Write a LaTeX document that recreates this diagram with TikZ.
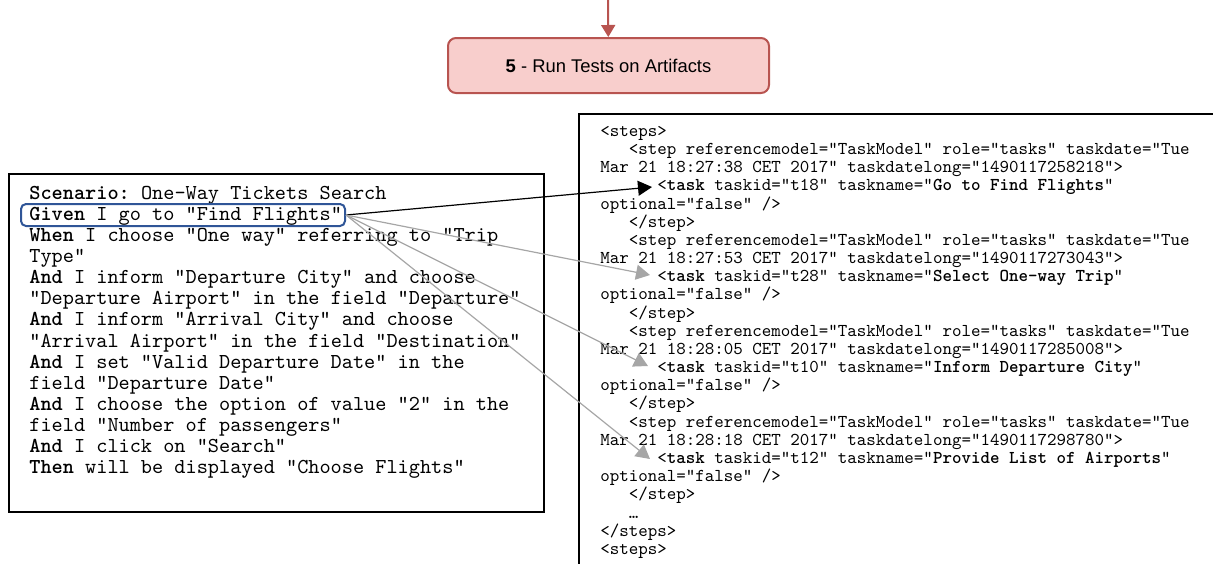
\documentclass[tikz,border=0pt]{standalone}
\usepackage{fontspec}
\setsansfont{Liberation Sans}
\setmonofont{lmmono10-regular}[Extension=.otf, BoldFont=lmmonolt10-bold]
\usepackage{xcolor}
\usetikzlibrary{arrows.meta,positioning}
\definecolor{stagefill}{HTML}{F8CECC}
\definecolor{stagedraw}{HTML}{B85450}
\definecolor{givenblue}{HTML}{2F5597}
\definecolor{linkgray}{HTML}{A6A6A6}
\newcommand{\ind}[1]{\hspace*{#1}}
\tikzset{
  stage/.style={draw=stagedraw, fill=stagefill, line width=1pt, rounded corners=4pt,
                font=\sffamily\fontsize{9.2}{11}\selectfont,
                minimum width=160.5pt, minimum height=27.5pt, inner sep=0pt},
  sheet/.style={draw, line width=0.8pt, anchor=north west, inner sep=0pt},
  listing/.style={anchor=north west, inner sep=0pt, align=left},
  hilite/.style={draw=givenblue, line width=1pt, rounded corners=2.5pt,
                 minimum width=162pt, minimum height=11pt, inner sep=0pt},
  flow/.style={-{Triangle[length=6pt,width=7pt]}, line width=1pt, stagedraw},
  link/.style={-{Triangle[length=7pt,width=7.5pt]}, line width=0.6pt},
}

\begin{document}
\begin{tikzpicture}[x=0.5pt, y=-0.5pt]
  \useasboundingbox (0,0) rectangle (1213,563);
  \clip (0,0) rectangle (1213,563);
  % step 5 box
  \node[stage] (run) at (608.5,65.5) {\textbf{5} - Run Tests on Artifacts};
  \coordinate (from4) at (608,0);
  \draw[flow] (from4) -- (run);

  % gherkin scenario
  \node[sheet, minimum width=267.5pt, minimum height=169pt] (scen) at (8,173) {};
  \node[listing, font=\ttfamily\fontsize{10.63}{10.54}\selectfont] (scentext) at (29,184.3)
    {\strut\textbf{Scenario:} One-Way Tickets Search\\
     \textbf{Given} I go to "Find Flights"\\
     \textbf{When} I choose "One way" referring to "Trip\\
     Type"\\
     \textbf{And} I inform "Departure City" and choose\\
     "Departure Airport" in the field "Departure"\\
     \textbf{And} I inform "Arrival City" and choose\\
     "Arrival Airport" in the field "Destination"\\
     \textbf{And} I set "Valid Departure Date" in the\\
     field "Departure Date"\\
     \textbf{And} I choose the option of value "2" in the\\
     field "Number of passengers"\\
     \textbf{And} I click on "Search"\\
     \textbf{Then} will be displayed "Choose Flights"};
  \node[hilite] (given) at (183,215) {};

  % task model xml
  \node[sheet, minimum width=330pt, minimum height=240pt] (xml) at (578,113) {};
  \node[listing, font=\ttfamily\fontsize{9.05}{9.085}\selectfont] (xmltext) at (600,123.3)
    {\strut<steps>\\
     \ind{1.575em}<step referencemodel="TaskModel" role="tasks" taskdate="Tue\\
     Mar 21 18:27:38 CET 2017" taskdatelong="1490117258218">\\
     \ind{3.15em}<\textbf{task} taskid="t18" taskname="\textbf{Go to Find Flights}"\\
     optional="false" />\\
     \ind{1.575em}</step>\\
     \ind{1.575em}<step referencemodel="TaskModel" role="tasks" taskdate="Tue\\
     Mar 21 18:27:53 CET 2017" taskdatelong="1490117273043">\\
     \ind{3.15em}<\textbf{task} taskid="t28" taskname="\textbf{Select One-way Trip}"\\
     optional="false" />\\
     \ind{1.575em}</step>\\
     \ind{1.575em}<step referencemodel="TaskModel" role="tasks" taskdate="Tue\\
     Mar 21 18:28:05 CET 2017" taskdatelong="1490117285008">\\
     \ind{3.15em}<\textbf{task} taskid="t10" taskname="\textbf{Inform Departure City}"\\
     optional="false" />\\
     \ind{1.575em}</step>\\
     \ind{1.575em}<step referencemodel="TaskModel" role="tasks" taskdate="Tue\\
     Mar 21 18:28:18 CET 2017" taskdatelong="1490117298780">\\
     \ind{3.15em}<\textbf{task} taskid="t12" taskname="\textbf{Provide List of Airports}"\\
     optional="false" />\\
     \ind{1.575em}</step>\\
     \ind{1.575em}…\\
     </steps>\\
     <steps>};

  % task targets
  \coordinate (t18) at (652,187);
  \coordinate (t28) at (650,275);
  \coordinate (t10) at (648,366);
  \coordinate (t12) at (650,459);
  \draw[link] (given.east) -- (t18);
  \draw[link, linkgray] (given.east) -- (t28);
  \draw[link, linkgray] (given.east) -- (t10);
  \draw[link, linkgray] (given.east) -- (t12);
\end{tikzpicture}
\end{document}
